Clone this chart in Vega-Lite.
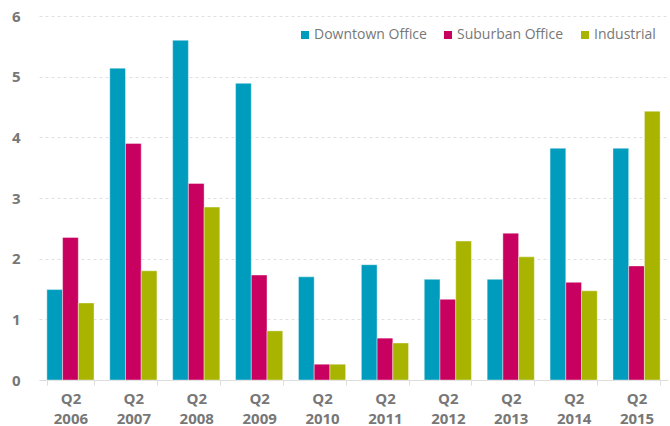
{
  "$schema": "https://vega.github.io/schema/vega-lite/v6.json",
  "width": 670,
  "height": 426,
  "autosize": {"type": "fit", "contains": "padding"},
  "padding": {"left": 11, "top": 9, "right": 2, "bottom": 0},
  "background": "white",
  "config": {
    "font": "Open Sans",
    "view": {"stroke": null}
  },
  "data": {
    "values": [
      {"period": "Q2 2006", "type": "Downtown Office", "value": 1.49},
      {"period": "Q2 2006", "type": "Suburban Office", "value": 2.35},
      {"period": "Q2 2006", "type": "Industrial", "value": 1.27},
      {"period": "Q2 2007", "type": "Downtown Office", "value": 5.14},
      {"period": "Q2 2007", "type": "Suburban Office", "value": 3.9},
      {"period": "Q2 2007", "type": "Industrial", "value": 1.8},
      {"period": "Q2 2008", "type": "Downtown Office", "value": 5.6},
      {"period": "Q2 2008", "type": "Suburban Office", "value": 3.24},
      {"period": "Q2 2008", "type": "Industrial", "value": 2.85},
      {"period": "Q2 2009", "type": "Downtown Office", "value": 4.89},
      {"period": "Q2 2009", "type": "Suburban Office", "value": 1.73},
      {"period": "Q2 2009", "type": "Industrial", "value": 0.81},
      {"period": "Q2 2010", "type": "Downtown Office", "value": 1.7},
      {"period": "Q2 2010", "type": "Suburban Office", "value": 0.26},
      {"period": "Q2 2010", "type": "Industrial", "value": 0.26},
      {"period": "Q2 2011", "type": "Downtown Office", "value": 1.9},
      {"period": "Q2 2011", "type": "Suburban Office", "value": 0.69},
      {"period": "Q2 2011", "type": "Industrial", "value": 0.61},
      {"period": "Q2 2012", "type": "Downtown Office", "value": 1.66},
      {"period": "Q2 2012", "type": "Suburban Office", "value": 1.33},
      {"period": "Q2 2012", "type": "Industrial", "value": 2.29},
      {"period": "Q2 2013", "type": "Downtown Office", "value": 1.66},
      {"period": "Q2 2013", "type": "Suburban Office", "value": 2.42},
      {"period": "Q2 2013", "type": "Industrial", "value": 2.03},
      {"period": "Q2 2014", "type": "Downtown Office", "value": 3.82},
      {"period": "Q2 2014", "type": "Suburban Office", "value": 1.61},
      {"period": "Q2 2014", "type": "Industrial", "value": 1.47},
      {"period": "Q2 2015", "type": "Downtown Office", "value": 3.82},
      {"period": "Q2 2015", "type": "Suburban Office", "value": 1.88},
      {"period": "Q2 2015", "type": "Industrial", "value": 4.43}
    ]
  },
  "mark": {"type": "bar", "stroke": "white", "strokeWidth": 1, "strokeOpacity": 0.4},
  "encoding": {
    "x": {
      "field": "period",
      "type": "nominal",
      "scale": {"paddingInner": 0.25, "paddingOuter": 0.125},
      "axis": {
        "title": null,
        "labelAngle": 0,
        "labelExpr": "split(datum.label, ' ')",
        "labelFont": "Open Sans",
        "labelFontSize": 15,
        "labelFontWeight": "bold",
        "labelColor": "#777777",
        "labelPadding": 6,
        "labelLineHeight": 20,
        "domainColor": "#dddddd",
        "tickColor": "#dddddd",
        "tickBand": "extent",
        "tickSize": 5,
        "grid": false
      }
    },
    "xOffset": {
      "field": "type",
      "type": "nominal",
      "sort": ["Downtown Office", "Suburban Office", "Industrial"]
    },
    "y": {
      "field": "value",
      "type": "quantitative",
      "scale": {"domain": [0, 6]},
      "axis": {
        "title": null,
        "tickCount": 6,
        "domain": false,
        "ticks": false,
        "labelFontSize": 15,
        "labelFontWeight": "bold",
        "labelColor": "#777777",
        "labelPadding": 19,
        "gridColor": "#e0e0e0",
        "gridDash": [3, 3]
      }
    },
    "color": {
      "field": "type",
      "type": "nominal",
      "sort": ["Downtown Office", "Suburban Office", "Industrial"],
      "scale": {
        "domain": ["Downtown Office", "Suburban Office", "Industrial"],
        "range": ["#009cbd", "#c8005f", "#a8b400"]
      },
      "legend": {
        "title": null,
        "orient": "top-right",
        "direction": "horizontal",
        "symbolType": "square",
        "symbolSize": 64,
        "symbolStrokeWidth": 0,
        "labelFontSize": 14,
        "labelColor": "#777777",
        "labelOffset": 2,
        "columnPadding": 14,
        "offset": 12
      }
    }
  }
}
